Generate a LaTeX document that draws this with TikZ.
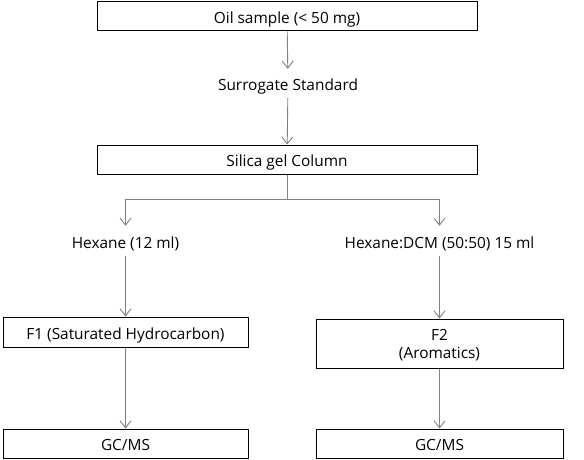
\documentclass[tikz,border=0pt]{standalone}
\usepackage{fontspec}
\setmainfont{Open Sans}
\usetikzlibrary{arrows.meta}

\begin{document}
\begin{tikzpicture}[x=1pt,y=-1pt,
    box/.style={draw=black, line width=1pt, minimum height=29pt, inner sep=0pt, align=center},
    one line/.style={text height=15pt, text depth=1pt},
    step label/.style={one line, inner sep=0pt, minimum height=29pt},
    flow/.style={draw=gray, line width=0.9pt, -{Straight Barb[length=7pt,width=11pt]}},
    font=\fontsize{15.4pt}{18pt}\selectfont]
    \useasboundingbox (0,0) rectangle (584,460);

    % main column
    \node[box, one line, minimum width=380pt] (oil) at (287,16.5) {Oil sample (< 50 mg)};
    \node[step label] (surr) at (288,83.5) {Surrogate Standard};
    \node[box, one line, minimum width=380pt] (silica) at (287,159.5) {Silica gel Column};

    \draw[flow] (oil) -- (surr);
    \draw[flow] (surr) -- (silica);

    % split into two fractions
    \coordinate (split) at (287,199);
    \node[step label, minimum height=30pt] (hex) at (125.5,241) {Hexane (12 ml)};
    \node[step label, minimum height=30pt] (dcm) at (439.5,241) {Hexane:DCM (50:50) 15 ml};

    \draw[draw=gray, line width=0.9pt] (silica) -- (split);
    \draw[flow] (split) -| (hex);
    \draw[flow] (split) -| (dcm);

    \node[box, one line, minimum width=245pt, minimum height=30pt] (f1) at (125.5,332) {F1 (Saturated Hydrocarbon)};
    \node[box, minimum width=247pt, minimum height=49pt, text depth=0pt] (f2) at (439.5,343.5) {F2\\(Aromatics)};

    \draw[flow] (hex) -- (f1);
    \draw[flow] (dcm) -- (f2);

    \node[box, one line, minimum width=245pt] (gc1) at (125.5,443.5) {GC/MS};
    \node[box, one line, minimum width=247pt] (gc2) at (439.5,443.5) {GC/MS};

    \draw[flow] (f1) -- (gc1);
    \draw[flow] (f2) -- (gc2);

\end{tikzpicture}
\end{document}
